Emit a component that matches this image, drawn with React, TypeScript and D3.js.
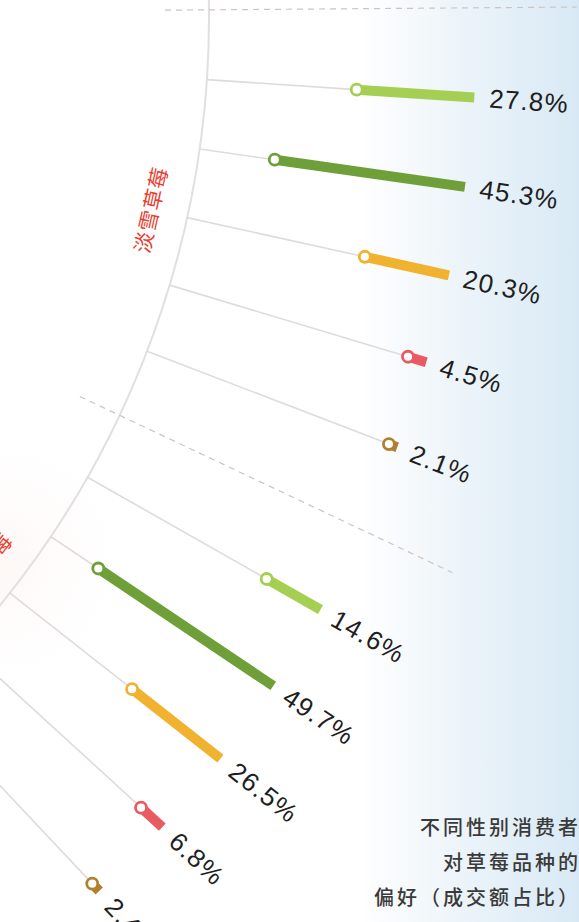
import React from "react";
import * as d3 from "d3";

// two strawberry varieties, five bars each (share of sales, %)
const categories = ["淡雪草莓", "红颜草莓"];
const groupValues = [
  [27.8, 45.3, 20.3, 4.5, 2.1],
  [14.6, 49.7, 26.5, 6.8, 2.4],
];
const barColors = ["#a5cf52", "#6e9f38", "#f1b22f", "#ea5a62", "#b27f2c"];
const titleLines = ["不同性别消费者", "对草莓品种的", "偏好（成交额占比）"];

const width = 579;
const height = 922;

// centre of the big ring sits off the left edge
const cx = -723;
const cy = 17;
const rArc = 932;
const rEnd = 1200;
const rLabel = 1215;
const rCat = 894;
const rSepIn = 888;
const rSepOut = 1300;

const slotAngle = d3.scaleLinear().domain([0, 10]).range([3.85, 46.75]);
const barLen = d3.scaleLinear().domain([0, 50]).range([0, 212]);
const fmt = d3.format(".1f");

const polar = (r: number, deg: number): [number, number] => {
  const a = (deg * Math.PI) / 180;
  return [cx + r * Math.cos(a), cy + r * Math.sin(a)];
};

const App = () => {
  const bars = groupValues.flatMap((vals, g) =>
    vals.map((v, i) => ({ v, i, g, slot: g * 6 + i }))
  );
  const separators = categories.map((_, g) => g * 6 - 1);

  return (
    <svg
      width={width}
      height={height}
      style={{ position: "absolute", left: 0, top: 0 }}
      fontFamily="'Liberation Sans', Arial, sans-serif"
    >
      <defs>
        <linearGradient id="bg" x1="0" x2="1" y1="0" y2="0">
          <stop offset="0" stopColor="#ffffff" />
          <stop offset="0.62" stopColor="#ffffff" />
          <stop offset="0.78" stopColor="#eef5fa" />
          <stop offset="1" stopColor="#d8e9f5" />
        </linearGradient>
        <radialGradient id="glow" cx="0" cy="560" r="150" gradientUnits="userSpaceOnUse">
          <stop offset="0" stopColor="#fbeeea" stopOpacity="0.5" />
          <stop offset="1" stopColor="#ffffff" stopOpacity="0" />
        </radialGradient>
      </defs>
      <rect width={width} height={height} fill="url(#bg)" />
      <rect width={width} height={height} fill="url(#glow)" />

      <circle cx={cx} cy={cy} r={rArc} fill="none" stroke="#e3dfdf" strokeWidth={2} />

      {separators.map((s) => {
        const [x1, y1] = polar(rSepIn, slotAngle(s));
        const [x2, y2] = polar(rSepOut, slotAngle(s));
        return (
          <line key={"sep" + s} x1={x1} y1={y1} x2={x2} y2={y2}
            stroke="#cdc3c3" strokeWidth={1.2} strokeDasharray="6 5" />
        );
      })}

      {bars.map((d) => {
        const ang = slotAngle(d.slot);
        const rStart = rEnd - barLen(d.v);
        const [ax, ay] = polar(rArc, ang);
        const [sx, sy] = polar(rStart, ang);
        const [ex, ey] = polar(rEnd, ang);
        const [lx, ly] = polar(rLabel, ang);
        const col = barColors[d.i];
        return (
          <g key={"bar" + d.slot}>
            <line x1={ax} y1={ay} x2={sx} y2={sy} stroke="#e0dbda" strokeWidth={1.6} />
            <line x1={sx} y1={sy} x2={ex} y2={ey} stroke={col} strokeWidth={10} />
            <circle cx={sx} cy={sy} r={5.5} fill="#fff" stroke={col} strokeWidth={2.8} />
            <text
              transform={`translate(${lx},${ly}) rotate(${ang})`}
              dominantBaseline="central"
              fontSize={26}
              letterSpacing={1.2}
              fill="#1e1e1e"
            >
              {fmt(d.v)}%
            </text>
          </g>
        );
      })}

      {categories.map((c, g) => {
        const ang = slotAngle(g * 6 + 2);
        const [x, y] = polar(rCat, ang);
        return (
          <text
            key={c}
            transform={`translate(${x},${y}) rotate(${ang - 90})`}
            textAnchor="middle"
            dominantBaseline="central"
            fontSize={21}
            letterSpacing={1}
            fill="#e8402f"
            fontFamily="'Noto Sans CJK SC', sans-serif"
          >
            {c}
          </text>
        );
      })}

      {titleLines.map((t, i) => (
        <text
          key={t}
          x={width + 2}
          y={826 + i * 35}
          textAnchor="end"
          dominantBaseline="central"
          fontSize={20}
          fontWeight={500}
          letterSpacing={3}
          fill="#3a3a3a"
          fontFamily="'Noto Sans CJK SC', sans-serif"
        >
          {t}
        </text>
      ))}
    </svg>
  );
};

export default App;
